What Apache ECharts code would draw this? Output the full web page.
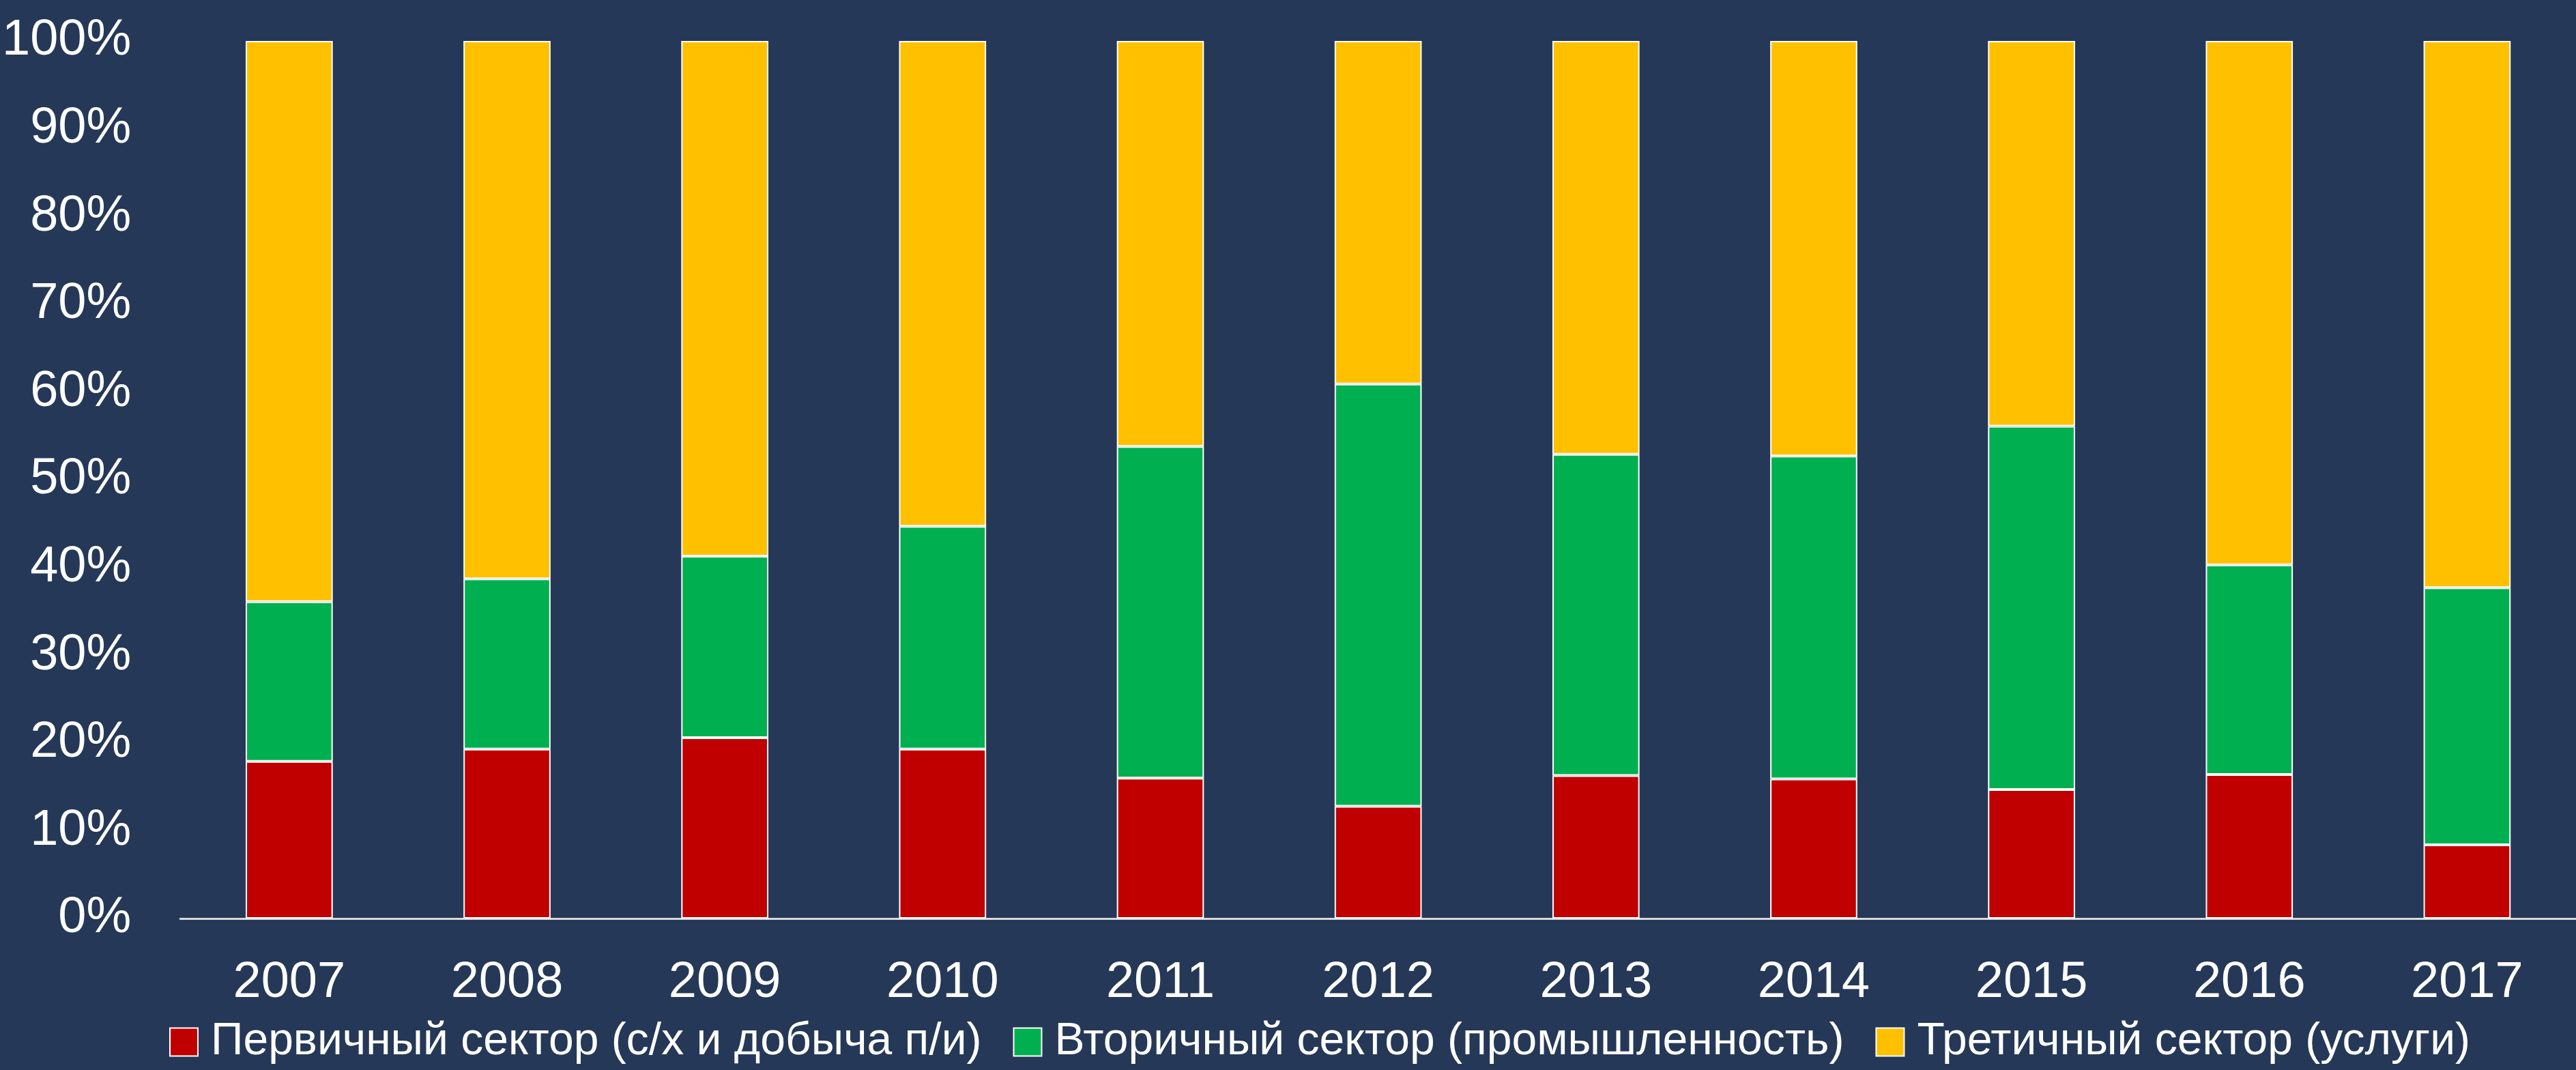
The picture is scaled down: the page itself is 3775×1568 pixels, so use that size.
<!DOCTYPE html>
<html>
<head>
<meta charset="utf-8">
<script src="https://cdn.jsdelivr.net/npm/echarts@6/dist/echarts.min.js"></script>
<style>
html, body { margin: 0; padding: 0; background: #253857; }
#chart { width: 3775px; height: 1568px; }
</style>
</head>
<body>
<div id="chart"></div>
<script>
var myChart = echarts.init(document.getElementById("chart"));

// годы
var years = ["2007", "2008", "2009", "2010", "2011", "2012", "2013", "2014", "2015", "2016", "2017"];
// доли секторов, %
var primary = [17.9, 19.3, 20.6, 19.3, 16.0, 12.8, 16.3, 15.9, 14.7, 16.4, 8.4];
var secondary = [18.2, 19.4, 20.7, 25.4, 37.8, 48.1, 36.6, 36.8, 41.4, 23.9, 29.3];
var tertiary = [63.9, 61.3, 58.7, 55.3, 46.2, 39.1, 47.1, 47.3, 43.9, 59.7, 62.3];
var names = [
	"Первичный сектор (с/х и добыча п/и)",
	"Вторичный сектор (промышленность)",
	"Третичный сектор (услуги)"
];
var colors = ["#C00000", "#00B050", "#FFC000"];

var font = "'Liberation Sans Narrow', 'Arial Narrow', 'Liberation Sans', Arial, sans-serif";

function barSeries(name, values, color) {
	return {
		name: name,
		type: "bar",
		stack: "total",
		barWidth: "40%",
		data: values,
		itemStyle: {
			color: color,
			borderColor: "#ffffff",
			borderWidth: 2
		}
	};
}

var option = {
	backgroundColor: "#253857",
	color: colors,
	animation: false,
	grid: {
		left: 257,
		top: 60,
		width: 3522,
		height: 1286
	},
	legend: {
		left: 243,
		top: 1489,
		width: 3520,
		itemWidth: 41,
		itemHeight: 41,
		itemGap: 46,
		icon: "rect",
		itemStyle: { borderColor: "#ffffff", borderWidth: 2 },
		textStyle: {
			color: "#ffffff",
			fontSize: 66,
			fontFamily: font,
			padding: [0, 0, 0, 14]
		},
		data: names
	},
	xAxis: {
		type: "category",
		data: years,
		axisTick: { show: false },
		axisLine: { lineStyle: { color: "#d9d9d9", width: 3 } },
		axisLabel: {
			color: "#ffffff",
			fontSize: 74,
			fontFamily: font,
			margin: 58
		}
	},
	yAxis: {
		type: "value",
		min: 0,
		max: 100,
		interval: 10,
		splitLine: { show: false },
		axisLine: { show: false },
		axisTick: { show: false },
		axisLabel: {
			color: "#ffffff",
			fontSize: 74,
			fontFamily: font,
			margin: 72,
			formatter: "{value}%"
		}
	},
	series: [
		barSeries(names[0], primary, colors[0]),
		barSeries(names[1], secondary, colors[1]),
		barSeries(names[2], tertiary, colors[2])
	]
};

myChart.setOption(option);
</script>
</body>
</html>
